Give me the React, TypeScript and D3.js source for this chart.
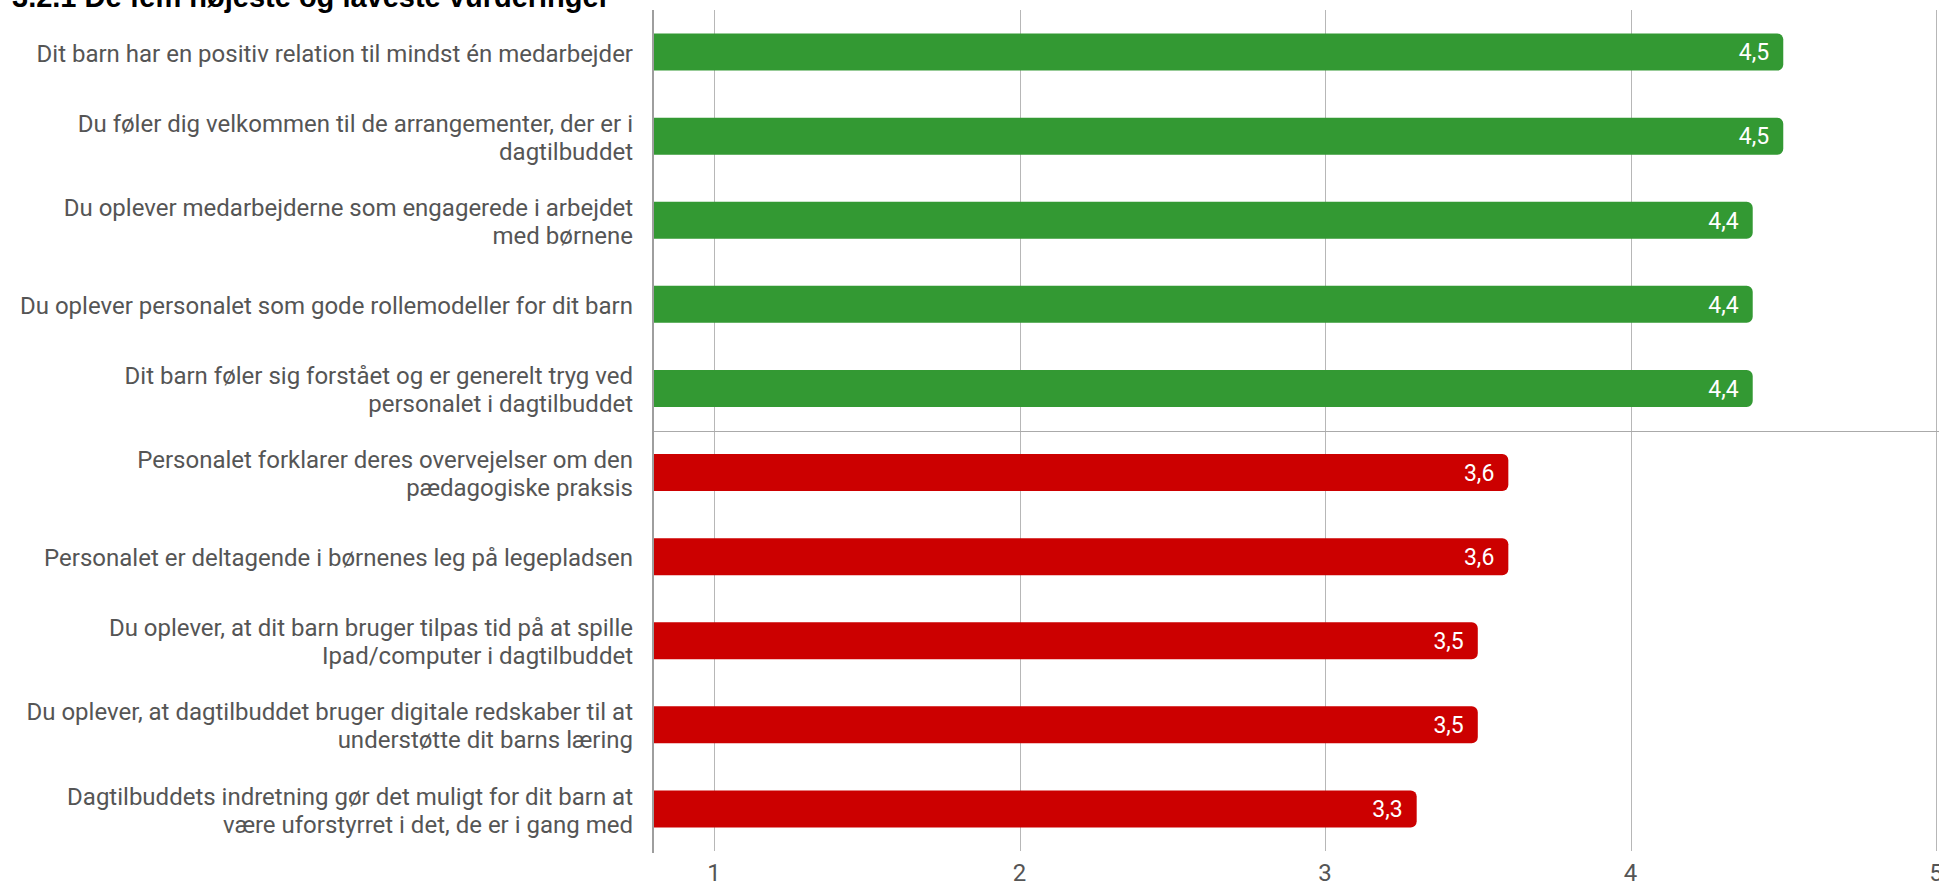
import React, { useEffect, useRef } from 'react'
import * as d3 from 'd3'

const title = '3.2.1 De fem højeste og laveste vurderinger'

const categories: string[] = [
  'Dit barn har en positiv relation til mindst én medarbejder',
  'Du føler dig velkommen til de arrangementer, der er i\ndagtilbuddet',
  'Du oplever medarbejderne som engagerede i arbejdet\nmed børnene',
  'Du oplever personalet som gode rollemodeller for dit barn',
  'Dit barn føler sig forstået og er generelt tryg ved\npersonalet i dagtilbuddet',
  'Personalet forklarer deres overvejelser om den\npædagogiske praksis',
  'Personalet er deltagende i børnenes leg på legepladsen',
  'Du oplever, at dit barn bruger tilpas tid på at spille\nIpad/computer i dagtilbuddet',
  'Du oplever, at dagtilbuddet bruger digitale redskaber til at\nunderstøtte dit barns læring',
  'Dagtilbuddets indretning gør det muligt for dit barn at\nvære uforstyrret i det, de er i gang med',
]
const values: number[] = [4.5, 4.5, 4.4, 4.4, 4.4, 3.6, 3.6, 3.5, 3.5, 3.3]
const groups: string[] = ['top', 'top', 'top', 'top', 'top', 'low', 'low', 'low', 'low', 'low']
const ticks: number[] = [1, 2, 3, 4, 5]

const W = 1939
const H = 884
const FONT = 'Roboto, "Open Sans", sans-serif'

const BarChart = () => {
  const ref = useRef(null)

  useEffect(() => {
    const svg = d3.select(ref.current)
    svg.selectAll('*').remove()

    const left = 653
    const right = 1936
    const top = 10
    const bottom = 851

    const xScale = d3.scaleLinear().domain([0.8, 5]).range([left, right])
    const yScale = d3
      .scaleBand()
      .domain(categories)
      .range([top, bottom])
      .paddingInner(0.56)
      .paddingOuter(0.28)
    const color = d3.scaleOrdinal().domain(['top', 'low']).range(['#339933', '#cc0000'])

    // title (cut at top of the page)
    svg
      .append('text')
      .attr('x', 12)
      .attr('y', 7)
      .attr('font-family', 'Arial, "Liberation Sans", sans-serif')
      .attr('font-weight', 'bold')
      .attr('font-size', 29)
      .attr('fill', '#000')
      .text(title)

    // grid
    svg
      .append('g')
      .selectAll('line')
      .data(ticks)
      .enter()
      .append('line')
      .attr('x1', (d) => Math.round(xScale(d)) + 0.5)
      .attr('x2', (d) => Math.round(xScale(d)) + 0.5)
      .attr('y1', top)
      .attr('y2', bottom)
      .attr('stroke', '#b7b7b7')
      .attr('stroke-width', 1)

    // separator between top five and lowest five
    const sepY = (yScale(categories[4]) + yScale(categories[5]) + yScale.bandwidth()) / 2
    svg
      .append('line')
      .attr('x1', left)
      .attr('x2', W)
      .attr('y1', Math.round(sepY) + 0.5)
      .attr('y2', Math.round(sepY) + 0.5)
      .attr('stroke', '#aaaaaa')

    // bars, rounded at the right end
    const r = 6
    const body = svg.append('g')
    const bar = body
      .selectAll('g')
      .data(categories.map((c, i) => ({ c, v: values[i], g: groups[i] })))
      .enter()
      .append('g')

    bar
      .append('path')
      .attr('fill', (d) => color(d.g) as string)
      .attr('d', (d) => {
        const x0 = left
        const x1 = xScale(d.v)
        const y0 = yScale(d.c)
        const h = yScale.bandwidth()
        const p = d3.path()
        p.moveTo(x0, y0)
        p.lineTo(x1 - r, y0)
        p.arcTo(x1, y0, x1, y0 + r, r)
        p.lineTo(x1, y0 + h - r)
        p.arcTo(x1, y0 + h, x1 - r, y0 + h, r)
        p.lineTo(x0, y0 + h)
        p.closePath()
        return p.toString()
      })

    bar
      .append('text')
      .attr('x', (d) => xScale(d.v) - 14)
      .attr('y', (d) => yScale(d.c) + yScale.bandwidth() / 2)
      .attr('dy', '0.36em')
      .attr('text-anchor', 'end')
      .attr('font-family', FONT)
      .attr('font-size', 23)
      .attr('fill', '#fff')
      .text((d) => String(d.v).replace('.', ','))

    // axis line on the left
    svg
      .append('line')
      .attr('x1', left)
      .attr('x2', left)
      .attr('y1', top)
      .attr('y2', bottom + 2)
      .attr('stroke', '#9e9e9e')
      .attr('stroke-width', 2)

    // category labels
    const lineH = 28
    const labels = svg
      .append('g')
      .selectAll('text')
      .data(categories)
      .enter()
      .append('text')
      .attr('text-anchor', 'end')
      .attr('font-family', FONT)
      .attr('font-size', 24)
      .attr('fill', '#555555')
    labels.each(function (d) {
      const lines = d.split('\n')
      const cy = yScale(d) + yScale.bandwidth() / 2 + 1
      const y0 = cy - ((lines.length - 1) * lineH) / 2
      const t = d3.select(this)
      lines.forEach((ln, i) => {
        t.append('tspan')
          .attr('x', 633)
          .attr('y', y0 + i * lineH)
          .attr('dy', '0.36em')
          .text(ln)
      })
    })

    // x tick labels
    svg
      .append('g')
      .selectAll('text')
      .data(ticks)
      .enter()
      .append('text')
      .attr('x', (d) => xScale(d))
      .attr('y', 881)
      .attr('text-anchor', 'middle')
      .attr('font-family', FONT)
      .attr('font-size', 24)
      .attr('fill', '#555555')
      .text((d) => d)
  }, [])

  return (
    <svg
      ref={ref}
      width={W}
      height={H}
      style={{ position: 'absolute', left: 0, top: 0, background: '#fff' }}
    ></svg>
  )
}

export default function App() {
  return <BarChart />
}
